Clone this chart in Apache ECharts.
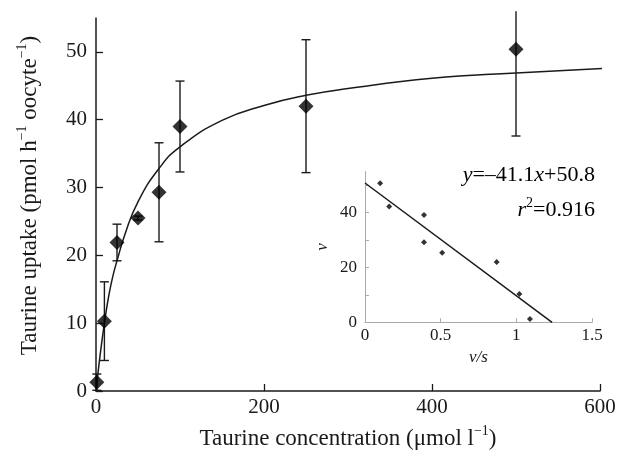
<!DOCTYPE html>
<html>
<head>
<meta charset="utf-8">
<script src="https://cdn.jsdelivr.net/npm/echarts@6/dist/echarts.min.js"></script>
<style>
  html, body { margin: 0; padding: 0; background: #fff; }
  #chart { width: 626px; height: 460px; }
</style>
</head>
<body>
<div id="chart"></div>
<script>
// 主图数据：浓度 / 摄取量 / 误差
const concentration = [1, 10, 25, 50, 75, 100, 250, 500];
const uptake = [1.3, 10.3, 21.9, 25.5, 29.3, 39.0, 42.0, 50.4];
const uptakeErr = [1.2, 5.8, 2.7, 0.3, 7.3, 6.7, 9.8, 12.8];

// 拟合曲线（从图上读取的点）
const fitX = [0, 5, 10, 15, 20, 25, 35, 50, 75, 100, 150, 200, 250, 300, 400, 500, 607];
const fitY = [0, 5.4, 10.0, 13.9, 16.9, 19.2, 23.3, 27.9, 32.8, 36.0, 39.9, 42.1, 43.6, 44.6, 46.1, 46.9, 47.6];

// 插图 (Eadie-Hofstee)
const insetVS = [0.10, 0.16, 0.39, 0.39, 0.51, 0.87, 1.02, 1.09];
const insetV = [50.7, 42.2, 39.1, 29.2, 25.4, 22.0, 10.3, 1.2];
const regX = [0, 1.236];
const regY = [50.8, 0];

// 刻度
const mainTicksY = [0, 10, 20, 30, 40, 50];
const mainTicksX = [0, 200, 400, 600];
const insetTicksY = [0, 10, 20, 30, 40, 50];
const insetTickLabelsY = [0, 20, 40];
const insetTicksX = [0, 0.5, 1, 1.5];

const FONT = '"Liberation Serif", "Times New Roman", serif';
const INK = '#1a1a1a';

const chart = echarts.init(document.getElementById('chart'));

const points = concentration.map((c, i) => [c, uptake[i]]);
const errData = concentration.map((c, i) => [c, uptake[i] - uptakeErr[i], uptake[i] + uptakeErr[i]]);
const fitData = fitX.map((x, i) => [x, fitY[i]]);
const insetPoints = insetVS.map((x, i) => [x, insetV[i]]);
const regData = regX.map((x, i) => [x, regY[i]]);

const Y_MAX = 55;

function renderErr(params, api) {
    const x = api.value(0);
    const lo = api.value(1);
    const hi = api.value(2);
    const topVal = Math.min(hi, Y_MAX + 1);
    const top = api.coord([x, topVal]);
    const bot = api.coord([x, lo]);
    const cap = 4.5;
    const style = { stroke: INK, lineWidth: 1.4 };
    const children = [
        { type: 'line', shape: { x1: top[0], y1: top[1], x2: bot[0], y2: bot[1] }, style: style },
        { type: 'line', shape: { x1: bot[0] - cap, y1: bot[1], x2: bot[0] + cap, y2: bot[1] }, style: style }
    ];
    // 顶部超出坐标范围时不画横线
    if (hi <= Y_MAX) {
        children.push({ type: 'line', shape: { x1: top[0] - cap, y1: top[1], x2: top[0] + cap, y2: top[1] }, style: style });
    }
    return { type: 'group', children: children };
}

function makeRich(size) {
    const lh = Math.round(size * 1.3);
    return {
        n: { fontFamily: FONT, fontSize: size, color: INK, lineHeight: lh },
        sup: { fontFamily: FONT, fontSize: Math.round(size * 0.62), color: INK, lineHeight: lh, verticalAlign: 'top' },
        it: { fontFamily: FONT, fontSize: size, color: INK, fontStyle: 'italic', lineHeight: lh }
    };
}

chart.setOption({
    animation: false,
    backgroundColor: '#fff',
    textStyle: { fontFamily: FONT },
    grid: [
        { left: 96, right: 26, top: 18, bottom: 69 },
        { left: 365, right: 34, top: 171.5, bottom: 137.7 }
    ],
    xAxis: [{
        gridIndex: 0, type: 'value', min: 0, max: 600, interval: 200,
        name: '{n|Taurine concentration (\u03bcmol l}{sup|\u22121}{n|)}',
        nameLocation: 'middle', nameGap: 33,
        nameTextStyle: { rich: makeRich(23) },
        axisLine: { show: true, lineStyle: { color: INK, width: 1.5 } },
        axisTick: { show: true, inside: true, length: 7, customValues: mainTicksX, lineStyle: { color: INK, width: 1.3 } },
        axisLabel: { color: INK, fontSize: 21, fontFamily: FONT, margin: 6, customValues: mainTicksX },
        splitLine: { show: false }
    }, {
        gridIndex: 1, type: 'value', min: 0, max: 1.5, interval: 0.5,
        name: 'v/s', nameLocation: 'middle', nameGap: 27,
        nameTextStyle: { color: INK, fontSize: 17, fontFamily: FONT, fontStyle: 'italic' },
        axisLine: { show: true, lineStyle: { color: '#aaa', width: 1 } },
        axisTick: { show: true, inside: true, length: 4, customValues: insetTicksX, lineStyle: { color: '#aaa' } },
        axisLabel: { color: INK, fontSize: 17, fontFamily: FONT, margin: 5, customValues: insetTicksX },
        splitLine: { show: false }
    }],
    yAxis: [{
        gridIndex: 0, type: 'value', min: 0, max: Y_MAX, interval: 10,
        name: '{n|Taurine uptake (pmol h}{sup|\u22121}{n| oocyte}{sup|\u22121}{n|)}',
        nameLocation: 'middle', nameGap: 51, nameRotate: 90,
        nameTextStyle: { rich: makeRich(23), padding: [0, 0, 0, 18] },
        axisLine: { show: true, lineStyle: { color: INK, width: 1.5 } },
        axisTick: { show: true, inside: true, length: 7, customValues: mainTicksY, lineStyle: { color: INK, width: 1.3 } },
        axisLabel: { color: INK, fontSize: 21, fontFamily: FONT, margin: 9, customValues: mainTicksY },
        splitLine: { show: false }
    }, {
        gridIndex: 1, type: 'value', min: 0, max: 55, interval: 10,
        name: 'v', nameLocation: 'middle', nameGap: 34, nameRotate: 90,
        nameTextStyle: { color: INK, fontSize: 17, fontFamily: FONT, fontStyle: 'italic' },
        axisLine: { show: true, lineStyle: { color: '#aaa', width: 1 } },
        axisTick: { show: true, inside: true, length: 4, customValues: insetTicksY, lineStyle: { color: '#aaa' } },
        axisLabel: { color: INK, fontSize: 17, fontFamily: FONT, margin: 8, customValues: insetTickLabelsY },
        splitLine: { show: false }
    }],
    graphic: [{
        type: 'text', right: 31, top: 164,
        style: {
            text: '{it|y}{n|=\u201341.1}{it|x}{n|+50.8}',
            rich: makeRich(22), align: 'right'
        }
    }, {
        type: 'text', right: 31, top: 196,
        style: {
            text: '{it|r}{sup|2}{n|=0.916}',
            rich: makeRich(22), align: 'right'
        }
    }],
    series: [{
        type: 'line', xAxisIndex: 0, yAxisIndex: 0,
        data: fitData, smooth: true, showSymbol: false, clip: false,
        lineStyle: { color: INK, width: 1.5 }
    }, {
        type: 'custom', xAxisIndex: 0, yAxisIndex: 0,
        data: errData, renderItem: renderErr, clip: false, z: 3
    }, {
        type: 'scatter', xAxisIndex: 0, yAxisIndex: 0,
        data: points, symbol: 'diamond', symbolSize: 15, z: 4,
        itemStyle: { color: '#000' }
    }, {
        type: 'line', xAxisIndex: 1, yAxisIndex: 1,
        data: regData, showSymbol: false, clip: false,
        lineStyle: { color: INK, width: 1.5 }
    }, {
        type: 'scatter', xAxisIndex: 1, yAxisIndex: 1,
        data: insetPoints, symbol: 'diamond', symbolSize: 6,
        itemStyle: { color: '#000' }
    }]
});
</script>
</body>
</html>
